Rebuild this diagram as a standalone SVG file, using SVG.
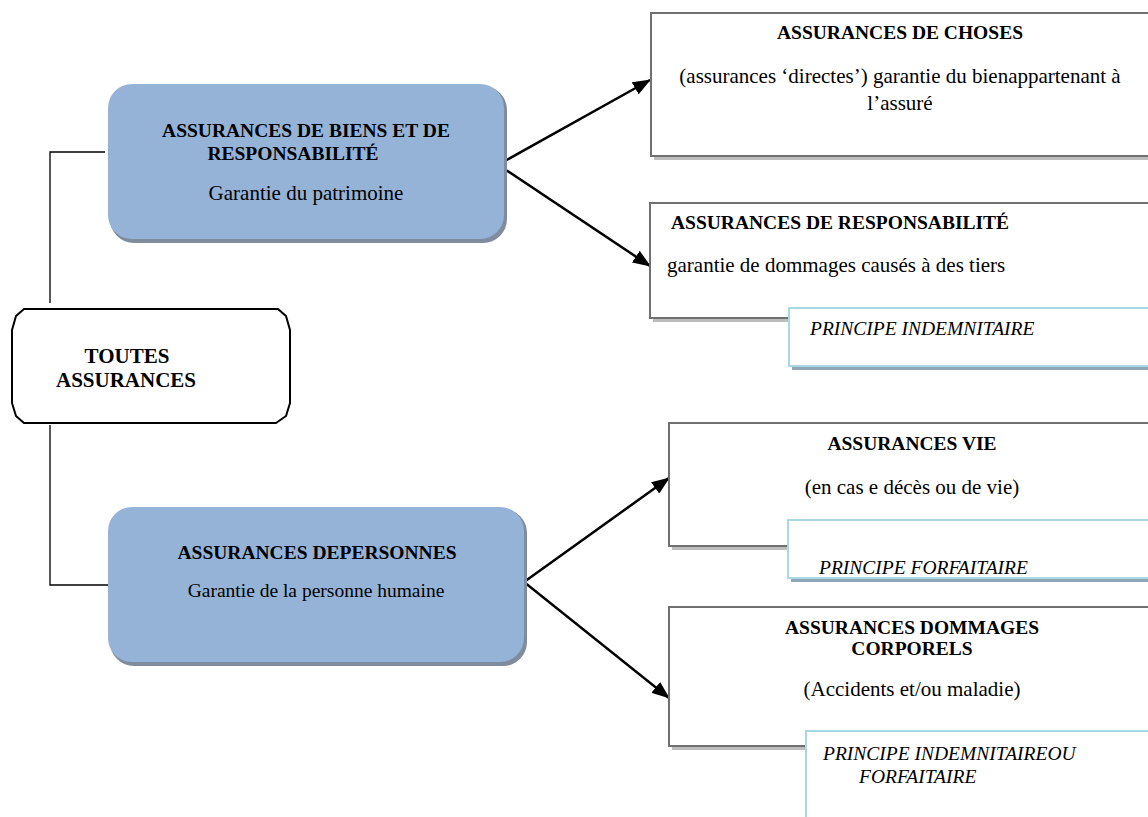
<svg xmlns="http://www.w3.org/2000/svg" width="1148" height="817" viewBox="0 0 1148 817">
<style>
.b{font-family:"Liberation Serif","Times New Roman",serif;font-weight:bold;font-size:19.5px;fill:#000}
.r{font-family:"Liberation Serif","Times New Roman",serif;font-size:21px;fill:#000}
.i{font-family:"Liberation Serif","Times New Roman",serif;font-style:italic;font-size:19.5px;fill:#000}
.blue{fill:#95b3d7}
.bsh{fill:#7f8c9e}
.box{fill:#fff;stroke:#707070;stroke-width:2}
.sh{fill:#bdbdbd}
.pbox{fill:#fff;stroke:#a8d8e4;stroke-width:2}
.psh{fill:#8ea6b8}
.conn{stroke:#000;stroke-width:1.3;fill:none}
.arr{stroke:#000;stroke-width:2.5;fill:none}
</style>
<defs>
<marker id="a" viewBox="0 0 18 14" refX="17" refY="7" markerWidth="18" markerHeight="14" markerUnits="userSpaceOnUse" orient="auto">
<path d="M0,0 L18,7 L0,14 z" fill="#000"/>
</marker>
</defs>

<g id="connectors">
<polyline class="conn" points="105,152 50,152 50,303"/>
<polyline class="conn" points="50,425 50,585 108,585"/>
<line class="arr" x1="503" y1="162" x2="650" y2="80" marker-end="url(#a)"/>
<line class="arr" x1="503" y1="168" x2="650" y2="266" marker-end="url(#a)"/>
<line class="arr" x1="524" y1="582" x2="669" y2="478" marker-end="url(#a)"/>
<line class="arr" x1="524" y1="582" x2="669" y2="698" marker-end="url(#a)"/>
</g>

<g id="n-biens">
<rect class="bsh" x="110" y="86" width="397" height="157" rx="24"/>
<rect class="blue" x="108" y="84" width="396" height="155" rx="24"/>
<text class="b" x="306" y="137" text-anchor="middle">ASSURANCES DE BIENS ET DE</text>
<text class="b" x="293" y="160" text-anchor="middle">RESPONSABILITÉ</text>
<text class="r" x="306" y="200" text-anchor="middle">Garantie du patrimoine</text>
</g>

<g id="n-toutes">
<path d="M24,309 L278,309 L286,316 L290,330 L290,403 L286,416 L276,423 L24,423 L16,416 L12,403 L12,330 L16,316 Z" fill="#fff" stroke="#000" stroke-width="2" stroke-linejoin="round"/>
<text class="b" x="127" y="363" text-anchor="middle" style="font-size:21px">TOUTES</text>
<text class="b" x="126" y="387" text-anchor="middle" style="font-size:21px">ASSURANCES</text>
</g>

<g id="n-personnes">
<rect class="bsh" x="110" y="509" width="417" height="157" rx="24"/>
<rect class="blue" x="108" y="507" width="416" height="155" rx="24"/>
<text class="b" x="317" y="559" text-anchor="middle">ASSURANCES DEPERSONNES</text>
<text class="r" x="316" y="597" text-anchor="middle" style="font-size:19.5px">Garantie de la personne humaine</text>
</g>

<g id="n-choses">
<rect class="sh" x="654" y="16" width="500" height="144"/>
<rect class="box" x="651" y="13" width="500" height="143"/>
<text class="b" x="900" y="39" text-anchor="middle">ASSURANCES DE CHOSES</text>
<text class="r" x="900" y="83" text-anchor="middle">(assurances ‘directes’) garantie du bienappartenant à</text>
<text class="r" x="900" y="110" text-anchor="middle">l’assuré</text>
</g>

<g id="n-responsabilite">
<rect class="sh" x="653" y="206" width="500" height="116"/>
<rect class="box" x="650" y="203" width="500" height="115"/>
<text class="b" x="671" y="229">ASSURANCES DE RESPONSABILITÉ</text>
<text class="r" x="667" y="272">garantie de dommages causés à des tiers</text>
</g>

<g id="n-principe-indemnitaire">
<rect class="psh" x="792" y="311" width="360" height="59"/>
<rect class="pbox" x="789" y="308" width="362" height="58"/>
<text class="i" x="810" y="335">PRINCIPE INDEMNITAIRE</text>
</g>

<g id="n-vie">
<rect class="sh" x="672" y="426" width="480" height="124"/>
<rect class="box" x="669" y="423" width="482" height="123"/>
<text class="b" x="912" y="450" text-anchor="middle">ASSURANCES VIE</text>
<text class="r" x="912" y="494" text-anchor="middle">(en cas e décès ou de vie)</text>
</g>

<g id="n-principe-forfaitaire">
<rect class="psh" x="791" y="523" width="360" height="59"/>
<rect class="pbox" x="788" y="520" width="362" height="58"/>
<text class="i" x="819" y="574">PRINCIPE FORFAITAIRE</text>
</g>

<g id="n-corporels">
<rect class="sh" x="672" y="610" width="480" height="140"/>
<rect class="box" x="669" y="607" width="482" height="139"/>
<text class="b" x="912" y="634" text-anchor="middle">ASSURANCES DOMMAGES</text>
<text class="b" x="912" y="655" text-anchor="middle">CORPORELS</text>
<text class="r" x="912" y="696" text-anchor="middle">(Accidents et/ou maladie)</text>
</g>

<g id="n-principe-mixte">
<rect class="pbox" x="806" y="731" width="345" height="90"/>
<text class="i" x="823" y="760">PRINCIPE INDEMNITAIREOU</text>
<text class="i" x="859" y="783">FORFAITAIRE</text>
</g>
</svg>
